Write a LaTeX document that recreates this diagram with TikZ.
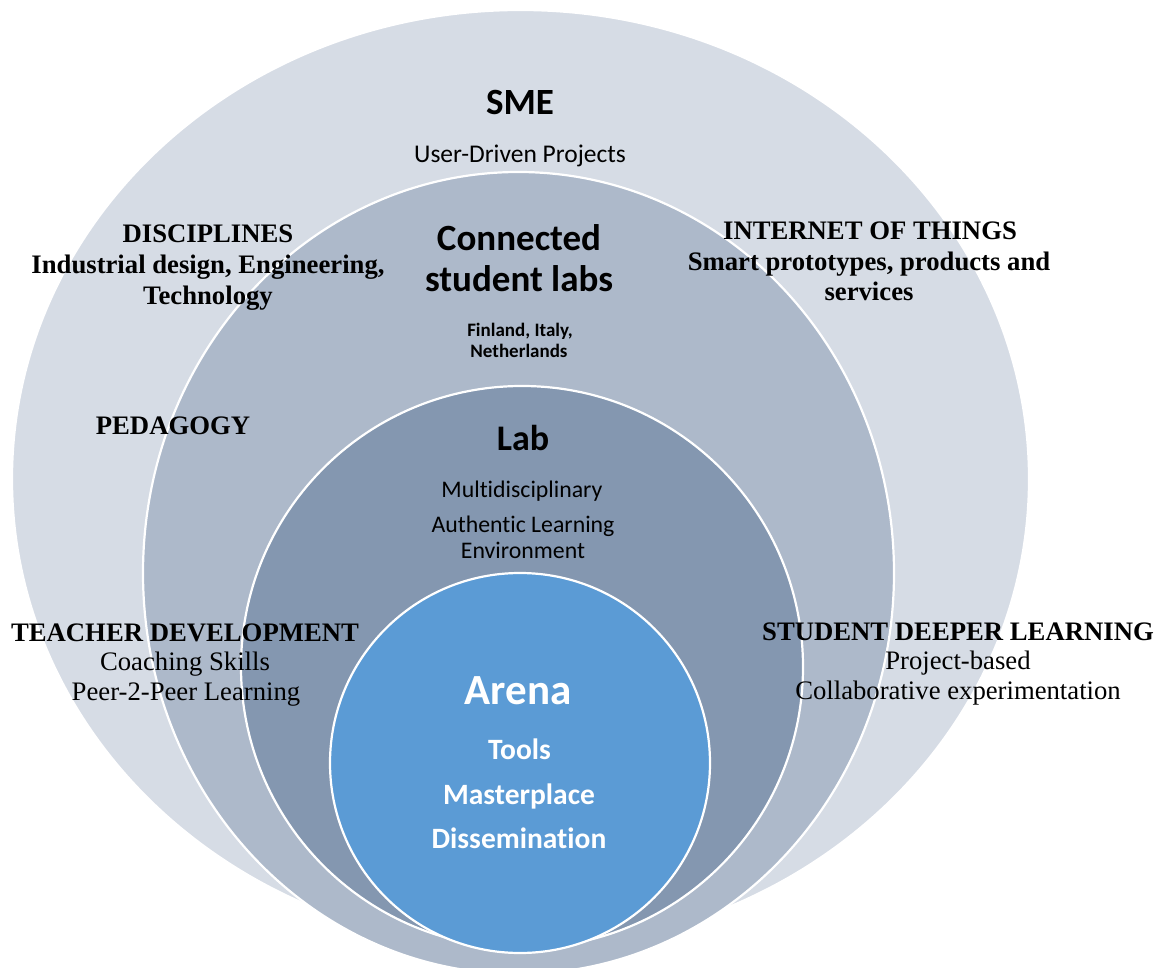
\documentclass[tikz,border=0pt]{standalone}
\usepackage{fontspec}
\setmainfont{Liberation Serif}
\newfontfamily\calfont[Ligatures=NoCommon]{Carlito}
\definecolor{ringA}{HTML}{D6DCE5}
\definecolor{ringB}{HTML}{ADB9CA}
\definecolor{ringC}{HTML}{8497B0}
\definecolor{ringD}{HTML}{5B9BD5}
\tikzset{
  ring/.style={draw=white, line width=2.2pt},
  lbl/.style={anchor=base, inner sep=0pt, text=black},
  tmsb/.style={lbl, font=\fontsize{26.7}{31}\selectfont\bfseries},
  tmsr/.style={lbl, font=\fontsize{26.7}{31}\selectfont},
  calhead/.style={lbl, font=\calfont\fontsize{37}{41}\selectfont\bfseries},
  calbody/.style={lbl, font=\calfont\fontsize{23.8}{27}\selectfont},
  calsme/.style={lbl, font=\calfont\fontsize{25.5}{27}\selectfont},
  calsmall/.style={lbl, font=\calfont\fontsize{19}{21}\selectfont\bfseries},
  arenahead/.style={lbl, text=white, font=\calfont\fontsize{43}{50}\selectfont\bfseries},
  arenabody/.style={lbl, text=white, font=\calfont\fontsize{29.5}{44}\selectfont\bfseries},
}
\begin{document}
\begin{tikzpicture}[x=1pt,y=-1pt]
\useasboundingbox (0,0) rectangle (1165,968);
\clip (0,0) rectangle (1165,968);
\fill[white] (0,0) rectangle (1165,968);
% rings
\filldraw[ring, fill=ringA] (520.5,479) ellipse [x radius=508.5, y radius=469];
\filldraw[ring, fill=ringB] (518.5,573) ellipse [x radius=375.5, y radius=401];
\filldraw[ring, fill=ringC] (522,667) circle [radius=281];
\filldraw[ring, fill=ringD] (520,763) circle [radius=190];
% centre texts
\node[calhead] (sme) at (520,115) {SME};
\node[calsme] (sme2) at (520,163) {User-Driven Projects};
\node[calhead] (csl1) at (519,251) {Connected};
\node[calhead] (csl2) at (519,292) {student labs};
\node[calsmall] (ctry1) at (520,337) {Finland, Italy,};
\node[calsmall] (ctry2) at (519,358) {Netherlands};
\node[calhead, font=\calfont\fontsize{36}{41}\selectfont\bfseries] (lab) at (523,450) {Lab};
\node[calbody] (lab1) at (522,497) {Multidisciplinary};
\node[calbody] (lab2) at (523,532) {Authentic Learning};
\node[calbody] (lab3) at (523,558) {Environment};
\node[arenahead] (arena) at (518,704) {Arena};
\node[arenabody] (ar1) at (519.5,759) {Tools};
\node[arenabody] (ar2) at (519,804) {Masterplace};
\node[arenabody] (ar3) at (519,848) {Dissemination};
% left texts
\node[tmsb] (disc1) at (208,243) {DISCIPLINES};
\node[tmsb] (disc2) at (208,274) {Industrial design, Engineering,};
\node[tmsb] (disc3) at (208,305) {Technology};
\node[tmsb] (ped) at (173,434) {PEDAGOGY};
\node[tmsb] (teach1) at (185,641) {TEACHER DEVELOPMENT};
\node[tmsr] (teach2) at (185,670) {Coaching Skills};
\node[tmsr] (teach3) at (186,700) {Peer-2-Peer Learning};
% right texts
\node[tmsb] (iot1) at (870,240) {INTERNET OF THINGS};
\node[tmsb] (iot2) at (869,271) {Smart prototypes, products and};
\node[tmsb] (iot3) at (869,301) {services};
\node[tmsb] (stu1) at (958,640) {STUDENT DEEPER LEARNING};
\node[tmsr] (stu2) at (958,669) {Project-based};
\node[tmsr] (stu3) at (958,699) {Collaborative experimentation};
\end{tikzpicture}
\end{document}
